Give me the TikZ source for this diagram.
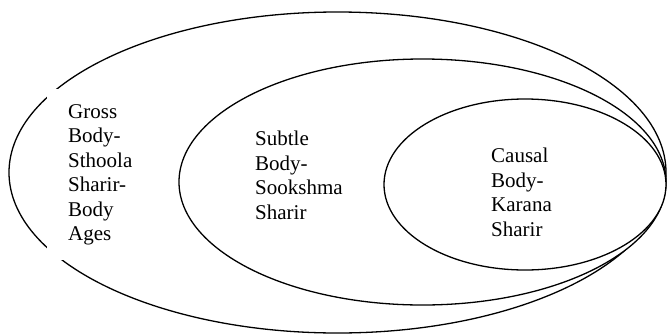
\documentclass[tikz,border=0pt]{standalone}
\usepackage{fontspec}
\setmainfont{Liberation Serif}
\usepackage{tikz}
\usetikzlibrary{positioning, shapes.geometric}

\begin{document}
\begin{tikzpicture}[x=1pt, y=-1pt,
            shell/.style={ellipse, draw=black, line width=1.3pt, inner sep=0pt, fill=white},
            lbl/.style={align=left, inner sep=0pt, anchor=north west,
                        font=\fontsize{21}{24.5}\selectfont}]
            \useasboundingbox (0,0) rectangle (667,335);
            % Shells
            \node[shell, minimum width=657pt, minimum height=321pt] (outer) at (337.5,172.5) {};
            \node[shell, minimum width=487pt, minimum height=246pt] (subtle) at (422.5,182) {};
            \node[shell, minimum width=282pt, minimum height=171pt] (causal) at (525,184.5) {};
            % Labels
            \node[lbl, fill=white, inner xsep=21pt, inner ysep=15pt] (grosstxt) at (47,89)
                {Gross\\Body-\\Sthoola\\Sharir-\\Body\\Ages};
            \node[lbl] (subtletxt) at (255,131) {Subtle\\Body-\\Sookshma\\Sharir};
            \node[lbl] (causaltxt) at (491,148) {Causal\\Body-\\Karana\\Sharir};
\end{tikzpicture}
\end{document}
